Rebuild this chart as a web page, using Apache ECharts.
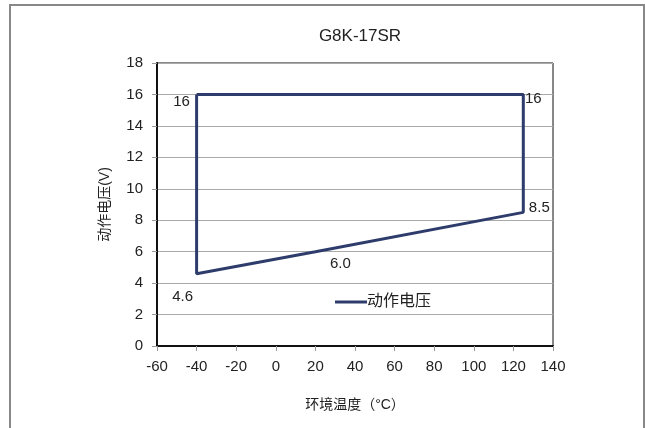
<!DOCTYPE html>
<html>
<head>
<meta charset="utf-8">
<script src="https://cdn.jsdelivr.net/npm/echarts@6/dist/echarts.min.js"></script>
<style>html,body{margin:0;padding:0;background:#fff}#c{width:645px;height:428px}</style>
</head>
<body>
<div id="c"></div>
<script>
var title = 'G8K-17SR';
var seriesName = '动作电压';
var xName = '环境温度（°C）';
var yName = '动作电压(V)';
var temps = [-40, 125, 125, 20, -40, -40];
var volts = [16, 16, 8.5, 6.0, 4.6, 16];
var pointLabels = ['16', '16', '8.5', '6.0', '4.6', ''];
var xTicks = [-60, 140, 20];
var yTicks = [0, 18, 2];

var labelOffsets = [[-15, 7], [10, 4], [16, -5], [25, 12], [-14, 23], [0, 0]];
var data = temps.map(function (t, i) {
  return {
    value: [t, volts[i]],
    label: {
      show: pointLabels[i] !== '',
      formatter: pointLabels[i],
      position: 'inside',
      offset: labelOffsets[i]
    }
  };
});
var font = '"Liberation Sans", Arial, "Noto Sans CJK SC", sans-serif';
var chart = echarts.init(document.getElementById('c'), null, {renderer: 'canvas'});
chart.setOption({
  animation: false,
  backgroundColor: '#fff',
  textStyle: {fontFamily: font, color: '#222'},
  title: {
    text: title, left: 355, top: 23, textAlign: 'center',
    textStyle: {fontFamily: font, fontSize: 17, fontWeight: 'normal', color: '#222'}
  },
  graphic: [{
    type: 'rect', shape: {x: 10, y: 5, width: 634, height: 440},
    style: {fill: 'none', stroke: '#888', lineWidth: 2}, silent: true, z: -1
  }],
  grid: {left: 157, top: 63, right: 92, bottom: 82, show: true, borderColor: '#111', borderWidth: 1, backgroundColor: 'transparent'},
  legend: {
    left: 330, top: 289, itemWidth: 32, itemHeight: 3, itemGap: 10,
    data: [{name: seriesName, icon: 'rect'}],
    textStyle: {fontFamily: font, fontSize: 16, color: '#222', padding: [0, 0, 0, -5]}
  },
  xAxis: {
    type: 'value', min: xTicks[0], max: xTicks[1], interval: xTicks[2],
    name: xName, nameLocation: 'middle', nameGap: 52,
    nameTextStyle: {fontFamily: font, fontSize: 14, color: '#222'},
    axisLine: {onZero: false, lineStyle: {color: '#111', width: 2}},
    axisTick: {show: true, length: 5, lineStyle: {color: '#999'}},
    axisLabel: {fontSize: 15, color: '#222', margin: 13},
    splitLine: {show: false}
  },
  yAxis: {
    type: 'value', min: yTicks[0], max: yTicks[1], interval: yTicks[2],
    name: yName, nameLocation: 'middle', nameGap: 45, nameRotate: 90,
    nameTextStyle: {fontFamily: font, fontSize: 14, color: '#222'},
    axisLine: {show: true, onZero: false, lineStyle: {color: '#111', width: 2}},
    axisTick: {show: true, length: 5, lineStyle: {color: '#999'}},
    axisLabel: {fontSize: 15, color: '#222', margin: 14},
    splitLine: {show: true, lineStyle: {color: '#aaa', width: 1}}
  },
  series: [{
    name: seriesName, type: 'line', data: data,
    symbol: 'circle', symbolSize: 0.1, showSymbol: true,
    lineStyle: {color: '#2e3c6c', width: 3},
    itemStyle: {color: '#2e3c6c'},
    label: {fontFamily: font, fontSize: 15, color: '#222'},
    emphasis: {disabled: true}
  }]
});
</script>
</body>
</html>
